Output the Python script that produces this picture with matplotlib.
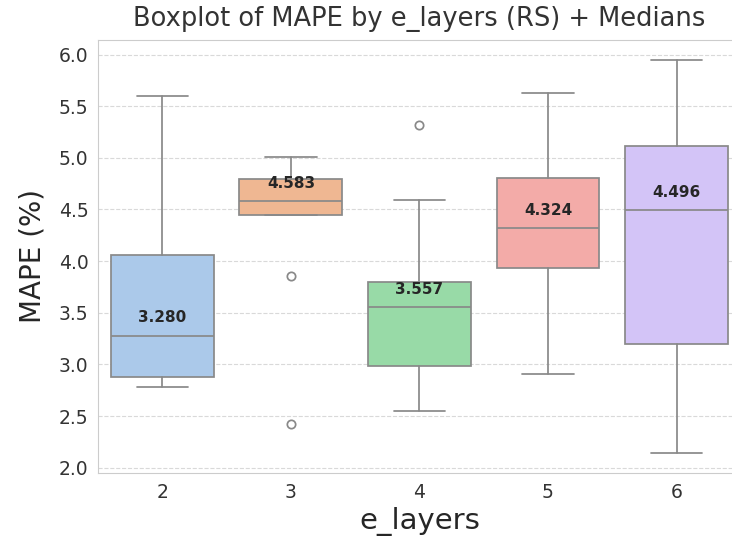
import matplotlib
matplotlib.use("Agg")
import matplotlib.pyplot as plt
import seaborn as sns

# values
layers = ["2", "3", "4", "5", "6"]
medians = [3.280, 4.583, 3.557, 4.324, 4.496]
q1 = [2.88, 4.45, 2.99, 3.93, 3.20]
q3 = [4.06, 4.795, 3.80, 4.80, 5.11]
whislo = [2.78, 4.45, 2.55, 2.91, 2.14]
whishi = [5.60, 5.01, 4.59, 5.63, 5.95]
fliers = [[], [3.86, 2.42], [5.32], [], []]

sns.set_style("whitegrid", {"grid.linestyle": "--"})
plt.rcParams['font.family'] = ['DejaVu Sans']

colors = sns.color_palette("pastel", 5, desat=0.75)
line_col = "#898989"

stats = []
for i in range(len(layers)):
    stats.append(dict(med=medians[i], q1=q1[i], q3=q3[i],
                      whislo=whislo[i], whishi=whishi[i],
                      fliers=fliers[i], label=layers[i]))

fig = plt.figure(figsize=(7.32, 5.44), dpi=100)
ax = fig.add_axes([0.134, 0.1305, 0.878, 0.796])

bp = ax.bxp(stats, positions=range(len(layers)), widths=0.8,
            patch_artist=True, manage_ticks=False,
            boxprops=dict(edgecolor=line_col, linewidth=1.25),
            medianprops=dict(color=line_col, linewidth=1.25),
            whiskerprops=dict(color=line_col, linewidth=1.25),
            capprops=dict(color=line_col, linewidth=1.25),
            flierprops=dict(marker="o", markerfacecolor="none",
                            markeredgecolor=line_col, markersize=6,
                            markeredgewidth=1.25))
for patch, c in zip(bp["boxes"], colors):
    patch.set_facecolor(c)

# median annotations
for i, m in enumerate(medians):
    ax.text(i, m + 0.17, f"{m:.3f}", ha="center", va="center",
            fontsize=11, fontweight="bold", color="#262626")

ax.set_xticks(range(len(layers)))
ax.set_xticklabels(layers)
ax.set_xlim(-0.5, 4.5)
ax.grid(axis="x", visible=False)
ax.grid(axis="y", color="0.85", linestyle="--")
ax.tick_params(labelsize=13.5, colors="#333333")
ax.set_title("Boxplot of MAPE by e_layers (RS) + Medians", fontsize=18.5,
             color="#333333", pad=10)
ax.set_xlabel("e_layers", fontsize=21, color="#262626")
ax.set_ylabel("MAPE (%)", fontsize=20, color="#262626", labelpad=9)

plt.savefig("out.png", dpi=100)
